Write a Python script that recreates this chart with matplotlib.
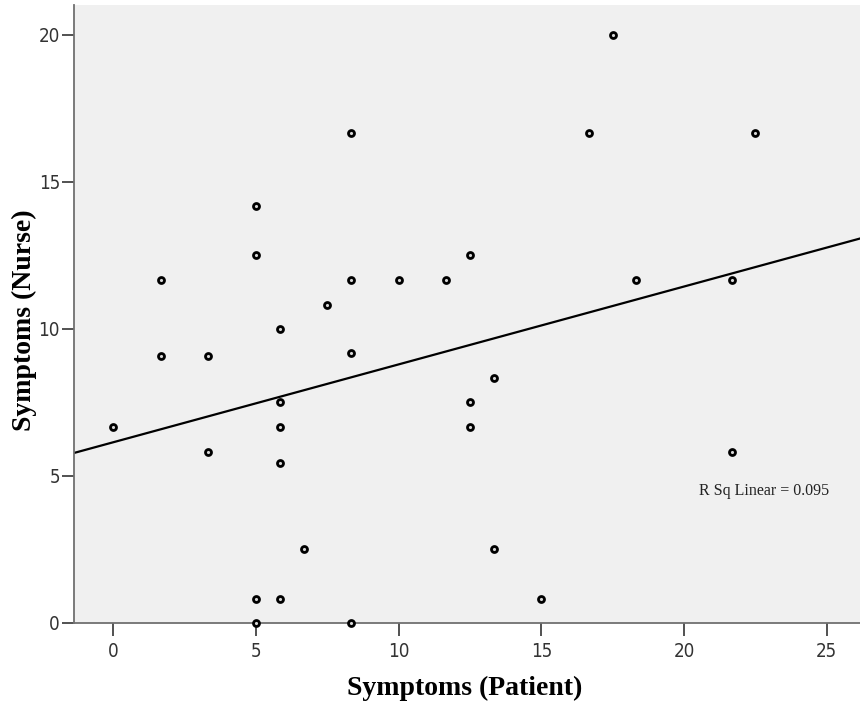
import numpy as np
import matplotlib
matplotlib.use("Agg")
import matplotlib.pyplot as plt

# Symptom scores: patient self-report (x) vs nurse rating (y)
patient = [0, 1.67, 1.67, 3.33, 3.33, 5, 5, 5, 5, 5.83, 5.83, 5.83, 5.83, 5.83,
           6.67, 7.5, 8.33, 8.33, 8.33, 8.33, 10, 11.67, 12.5, 12.5, 12.5,
           13.33, 13.33, 15, 16.67, 17.5, 18.33, 21.67, 21.67, 22.5]
nurse = [6.67, 11.67, 9.09, 9.09, 5.83, 14.17, 12.5, 0.83, 0, 10, 7.5, 6.67, 5.45, 0.83,
         2.5, 10.83, 16.67, 11.67, 9.17, 0, 11.67, 11.67, 12.5, 7.5, 6.67,
         8.33, 2.5, 0.83, 16.67, 20, 11.67, 11.67, 5.83, 16.67]
x_ticks = [0, 5, 10, 15, 20, 25]
y_ticks = [0, 5, 10, 15, 20]
r_sq_label = "R Sq Linear = 0.095"

x = np.array(patient)
y = np.array(nurse)
slope, intercept = np.polyfit(x, y, 1)

fig = plt.figure(figsize=(8.6, 7.11), dpi=100)
ax = fig.add_axes([74 / 860, 88 / 711, 786 / 860, 618 / 711])
ax.set_facecolor("#f0f0f0")

xlim = (-1.38, 26.17)
ax.set_xlim(*xlim)
ax.set_ylim(0, 21.02)

xs = np.array(xlim)
ax.plot(xs, intercept + slope * xs, color="black", lw=1.6, zorder=2, clip_on=True)
ax.plot(x, y, linestyle="none", marker="o", markersize=4.3, markeredgewidth=2.0,
        markerfacecolor="#d8d8d8", markeredgecolor="black", zorder=3, clip_on=False)

ax.text(20.53, 4.5, r_sq_label, family="Liberation Serif", fontsize=11.5,
        va="center", ha="left", color="#222222")

for s in ["top", "right"]:
    ax.spines[s].set_visible(False)
for s in ["left", "bottom"]:
    ax.spines[s].set_color("#707070")
    ax.spines[s].set_linewidth(1.3)

ax.set_xticks(x_ticks)
ax.set_yticks(y_ticks)
ax.tick_params(axis="x", length=9, width=1.2, color="#333333", pad=5)
ax.tick_params(axis="y", length=9, width=1.2, color="#333333", pad=1)
for lab in ax.get_xticklabels() + ax.get_yticklabels():
    lab.set_family("DejaVu Sans")
    lab.set_fontstretch("condensed")
    lab.set_fontsize(13.5)
    lab.set_color("#333333")

ax.set_xlabel("Symptoms (Patient)", family="Liberation Serif", fontweight="bold",
              fontsize=20, va="center")
ax.set_ylabel("Symptoms (Nurse)", family="Liberation Serif", fontweight="bold",
              fontsize=20, va="center")
ax.xaxis.set_label_coords(0.497, -0.106)
ax.yaxis.set_label_coords(-0.063, 0.49)

fig.savefig("out.png", dpi=100, facecolor="white")
